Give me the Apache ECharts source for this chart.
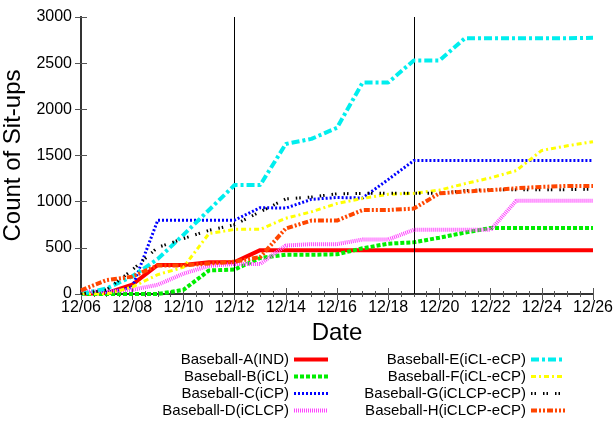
<!DOCTYPE html>
<html>
<head>
<meta charset="utf-8">
<script src="https://cdn.jsdelivr.net/npm/echarts@6/dist/echarts.min.js"></script>
<style>
html,body{margin:0;padding:0;background:#fff;}
#chart{width:614px;height:424px;}
</style>
</head>
<body>
<div id="chart"></div>
<script>
// ---- data ----
const dates = ['12/06','12/07','12/08','12/09','12/10','12/11','12/12','12/13','12/14','12/15','12/16',
               '12/17','12/18','12/19','12/20','12/21','12/22','12/23','12/24','12/25','12/26'];
const markerDates = ['12/12','12/19'];
const seriesNames = ['Baseball-A(IND)','Baseball-B(iCL)','Baseball-C(iCP)','Baseball-D(iCLCP)',
                     'Baseball-E(iCL-eCP)','Baseball-F(iCL-eCP)','Baseball-G(iCLCP-eCP)','Baseball-H(iCLCP-eCP)'];
const valuesA = [0,10,100,315,315,345,345,475,475,475,475,475,475,475,475,475,475,475,475,475,475];
const valuesB = [0,0,0,0,45,255,265,390,425,425,430,495,545,560,610,665,715,715,715,715,715];
const valuesC = [0,20,70,800,800,800,800,935,930,1025,1045,1040,1240,1445,1445,1445,1445,1445,1445,1445,1445];
const valuesD = [30,25,45,100,220,305,325,325,525,540,540,590,590,695,695,695,695,1010,1010,1010,1010];
const valuesE = [0,60,190,380,640,910,1180,1180,1625,1680,1800,2290,2290,2530,2530,2770,2770,2770,2770,2770,2775];
const valuesF = [0,0,75,210,290,655,700,700,820,890,980,1035,1080,1090,1125,1195,1258,1336,1555,1605,1650];
const valuesG = [0,45,260,505,600,690,750,890,1030,1050,1085,1090,1090,1090,1090,1120,1130,1130,1130,1130,1135];
const valuesH = [40,150,188,310,310,330,350,400,710,795,795,910,910,925,1090,1110,1125,1145,1160,1170,1170];
const yTicks = [0,500,1000,1500,2000,2500,3000];

const allValues = [valuesA,valuesB,valuesC,valuesD,valuesE,valuesF,valuesG,valuesH];
const styles = [
  {color:'#ff0000', width:4, type:'solid'},
  {color:'#00ee00', width:4, type:[4,2]},
  {color:'#0000ff', width:3, type:[2,2]},
  {color:'#ff44ff', width:4, type:[1,1]},
  {color:'#00eeee', width:4, type:[8,3,3,3]},
  {color:'#ffff00', width:3, type:[5,3,2,3]},
  {color:'#000000', width:3, type:[1.5,2,1.5,7]},
  {color:'#ff4500', width:4, type:[6,2,2,2,2,2]}
];

const FONT = 'Liberation Sans';
const chart = echarts.init(document.getElementById('chart'), null, {renderer:'canvas'});

const series = allValues.map((vals, k) => {
  const s = {
    name: seriesNames[k],
    type: 'line',
    xAxisIndex: 0,
    yAxisIndex: 0,
    symbol: 'none',
    showSymbol: false,
    data: vals.map((v, i) => [i, v]),
    lineStyle: {color: styles[k].color, width: styles[k].width, type: styles[k].type},
    itemStyle: {color: styles[k].color},
    emphasis: {disabled: true},
    z: 3 + k
  };
  if (k === 0) {
    s.markLine = {
      silent: true,
      symbol: ['none','none'],
      label: {show: false},
      lineStyle: {color:'#000', width:1, type:'solid'},
      emphasis: {disabled: true},
      data: markerDates.map(d => ({xAxis: dates.indexOf(d)}))
    };
  }
  return s;
});

const axisLineStyle = {show:true, lineStyle:{color:'#333', width:2}};
const tickStyle = {show:true, inside:true, length:6, lineStyle:{color:'#555', width:1}};
const minorStyle = {show:true, splitNumber:4, length:3, lineStyle:{color:'#555', width:1}};

const legendItems = (from, to) => seriesNames.slice(from, to).map((n, j) => {
  const st = styles[from + j];
  return {name: n, lineStyle: {color: st.color, width: st.width, type: st.type}};
});

const legendBase = {
  orient:'vertical', align:'right', itemWidth:34, itemHeight:10, itemGap:2, padding:0,
  selectedMode:false,
  itemStyle:{color:'rgba(0,0,0,0)', borderColor:'rgba(0,0,0,0)', borderWidth:0, opacity:0},
  textStyle:{fontFamily:FONT, fontSize:15, color:'#000'}
};

chart.setOption({
  animation:false,
  backgroundColor:'#fff',
  grid:{left:81, right:21, top:17, bottom:130, containLabel:false, outerBoundsMode:'none'},
  xAxis:[
    {type:'value', position:'bottom', min:0, max:dates.length-1, interval:2,
     name:'Date', nameLocation:'middle', nameGap:27,
     nameTextStyle:{fontFamily:FONT, fontSize:24, color:'#000'},
     axisLine:axisLineStyle, axisTick:tickStyle, minorTick:minorStyle,
     splitLine:{show:false}, minorSplitLine:{show:false},
     axisLabel:{fontFamily:FONT, fontSize:16, color:'#000', margin:6,
                formatter:v => dates[Math.round(v)] || ''}},
    {type:'value', position:'top', min:0, max:dates.length-1, interval:2,
     axisLine:axisLineStyle, axisTick:tickStyle, minorTick:minorStyle,
     splitLine:{show:false}, axisLabel:{show:false}}
  ],
  yAxis:[
    {type:'value', position:'left', min:yTicks[0], max:yTicks[yTicks.length-1], interval:yTicks[1]-yTicks[0],
     name:'Count of Sit-ups', nameLocation:'middle', nameGap:43, nameRotate:90,
     nameTextStyle:{fontFamily:FONT, fontSize:24, color:'#000'},
     axisLine:axisLineStyle, axisTick:tickStyle, splitLine:{show:false},
     axisLabel:{fontFamily:FONT, fontSize:16, color:'#000', margin:9, formatter:v => String(v)}},
    {type:'value', position:'right', min:yTicks[0], max:yTicks[yTicks.length-1], interval:yTicks[1]-yTicks[0],
     axisLine:axisLineStyle, axisTick:tickStyle, splitLine:{show:false}, axisLabel:{show:false}}
  ],
  legend:[
    Object.assign({}, legendBase, {right:284, top:352, data:legendItems(0,4)}),
    Object.assign({}, legendBase, {right:47, top:352, data:legendItems(4,8)})
  ],
  series: series
});
</script>
</body>
</html>
